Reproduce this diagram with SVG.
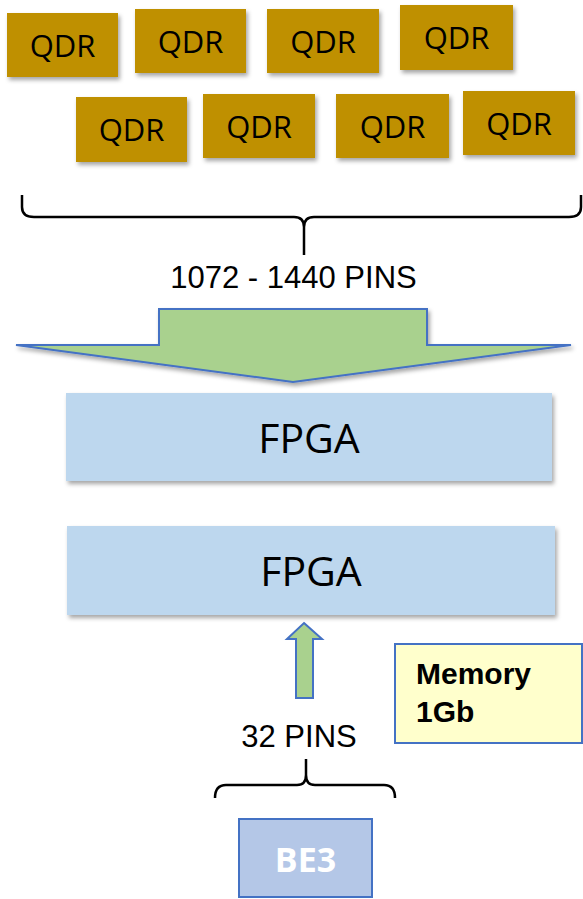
<svg xmlns="http://www.w3.org/2000/svg" width="583" height="899" viewBox="0 0 583 899">
<defs>
<filter id="sh" x="-10%" y="-10%" width="130%" height="140%">
<feDropShadow dx="2" dy="3" stdDeviation="2" flood-color="#000" flood-opacity="0.35"/>
</filter>
<style>
.qdr{fill:#BF9000;filter:url(#sh)}
.qt{font-family:"Open Sans","Noto Sans",sans-serif;font-size:31px;fill:#000;text-anchor:middle}
.fpga{fill:#BDD7EE;filter:url(#sh)}
.ft{font-family:"Open Sans","Noto Sans",sans-serif;font-size:41px;fill:#000;text-anchor:middle}
.lbl{font-family:"Liberation Sans",Arial,sans-serif;font-size:31px;fill:#000;text-anchor:middle}
.brace{fill:none;stroke:#000;stroke-width:2.5;stroke-linejoin:round}
.arr{fill:#A9D18E;stroke:#4472C4;stroke-width:2}
</style>
</defs>
<rect width="583" height="899" fill="#fff"/>
<g id="qdr1"><rect class="qdr" x="7" y="13" width="111" height="64"/><text class="qt" x="62.5" y="56.5">QDR</text></g>
<g id="qdr2"><rect class="qdr" x="135" y="9" width="111" height="64"/><text class="qt" x="190.5" y="52.5">QDR</text></g>
<g id="qdr3"><rect class="qdr" x="267" y="9" width="112" height="64"/><text class="qt" x="323" y="52.5">QDR</text></g>
<g id="qdr4"><rect class="qdr" x="400" y="5" width="113" height="65"/><text class="qt" x="456.5" y="48.5">QDR</text></g>
<g id="qdr5"><rect class="qdr" x="76" y="97" width="111" height="65"/><text class="qt" x="131.5" y="140.5">QDR</text></g>
<g id="qdr6"><rect class="qdr" x="203" y="94" width="112" height="64"/><text class="qt" x="259" y="137.5">QDR</text></g>
<g id="qdr7"><rect class="qdr" x="336" y="94" width="113" height="64"/><text class="qt" x="392.5" y="137.5">QDR</text></g>
<g id="qdr8"><rect class="qdr" x="463" y="91" width="112" height="64"/><text class="qt" x="519" y="134.5">QDR</text></g>
<g id="fpga1"><rect class="fpga" x="66" y="393" width="486" height="88"/><text class="ft" x="309" y="453">FPGA</text></g>
<g id="fpga2"><rect class="fpga" x="67" y="526" width="488" height="89"/><text class="ft" x="311" y="586">FPGA</text></g>
<g id="memory"><rect x="395" y="644" width="187" height="99" fill="#FFFFCC" stroke="#4472C4" stroke-width="2"/>
<text font-family="'Liberation Sans',Arial,sans-serif" font-size="30" font-weight="bold" fill="#000"><tspan x="416" y="684">Memory</tspan><tspan x="416" y="722">1Gb</tspan></text></g>
<g id="be3"><rect x="239" y="819" width="133" height="78" fill="#B4C7E7" stroke="#4472C4" stroke-width="2"/>
<text x="305.5" y="872" font-family="'Open Sans','Noto Sans',sans-serif" font-size="34" font-weight="bold" fill="#fff" text-anchor="middle">BE3</text></g>
<g id="connectors">
<path class="brace" d="M22,195 L22,207 Q22,217 34,217 L294,217 Q304,217 304,227 L304,255 M304,227 Q304,217 314,217 L569,217 Q581,217 581,207 L581,195"/>
<text class="lbl" x="293.5" y="288">1072 - 1440 PINS</text>
<polygon class="arr" filter="url(#sh)" points="159,309 427,309 427,345 571,345 293,382 16,345 159,345"/>
<polygon class="arr" points="304,623 322,639 313,639 313,698 296,698 296,639 287,639"/>
<text class="lbl" x="299" y="747">32 PINS</text>
<path class="brace" d="M215,798 Q215,785 226,785 L297,785 Q306,785 306,775 L306,759 M306,775 Q306,785 315,785 L384,785 Q395,785 395,798"/>
</g>
</svg>
